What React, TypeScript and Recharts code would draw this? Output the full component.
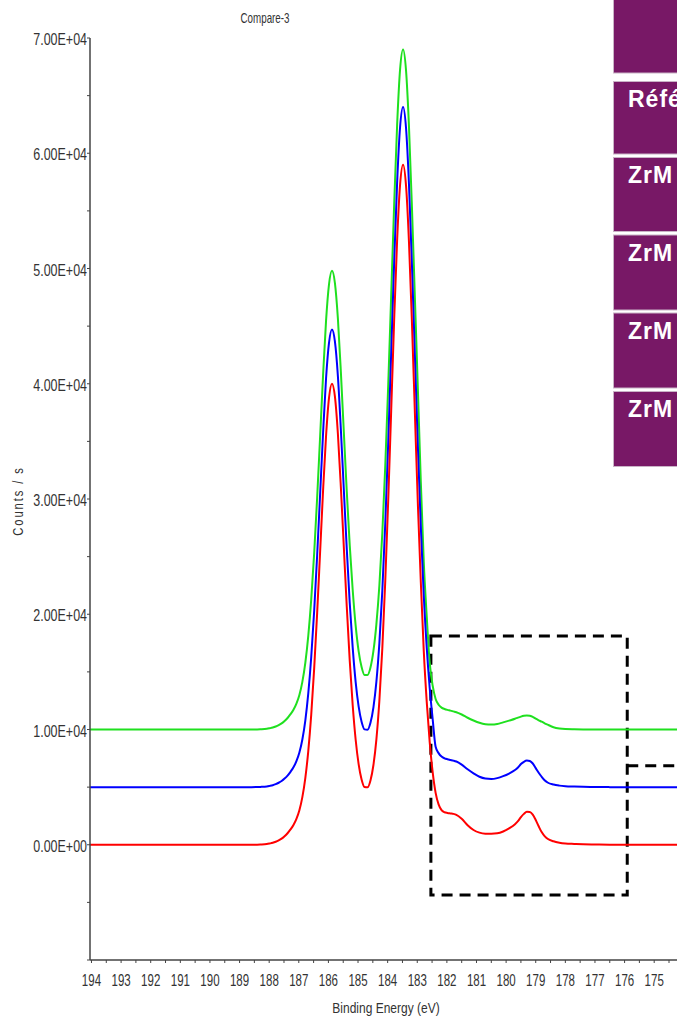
import React from 'react';
import { LineChart, Line, XAxis, YAxis, ReferenceArea, ReferenceLine } from 'recharts';

// Binding energy grid (eV), high to low
const ENERGY = [
  194.05, 193, 192, 191, 190, 189.5, 189, 188.6, 188.3,
  188.08, 187.98, 187.88, 187.78, 187.68, 187.58, 187.48, 187.38, 187.28, 187.18, 187.08, 186.98,
  186.88, 186.78, 186.68, 186.58, 186.48, 186.38, 186.28, 186.18, 186.08, 185.98,
  185.88, 185.78, 185.68, 185.58, 185.48, 185.38, 185.28, 185.18, 185.08, 184.98,
  184.88, 184.78, 184.68, 184.58, 184.48, 184.38, 184.28, 184.18, 184.08, 183.98,
  183.88, 183.78, 183.68, 183.58, 183.48, 183.38, 183.28, 183.18, 183.08, 182.98,
  182.88, 182.78, 182.68, 182.58, 182.48, 182.38, 182.28, 182.18, 182.08, 181.98, 181.88,
  181.78, 181.68, 181.5, 181.3, 181.1, 180.9, 180.7, 180.5, 180.3, 180.1,
  179.9, 179.7, 179.6, 179.5, 179.4, 179.3, 179.2, 179.1, 179.0, 178.9,
  178.8, 178.7, 178.6, 178.4, 178.2, 178.0, 177.7, 177.4, 177.0, 176.5,
  176.0, 175.5, 175.0, 174.6, 174.23,
];

const RED_COUNTS = [
  0, 0, 0, 0, 0, 0, 0, 0, 20,
  60, 110, 170, 260, 380, 530, 740, 1000, 1330, 1720, 2250, 3000,
  4130, 5780, 8130, 11290, 15330, 20120, 25420, 30750, 35460, 38780,
  40010, 38880, 35660, 31050, 25830, 20650, 15980, 12100, 9110, 7000,
  5670, 5010, 4980, 5580, 6920, 9150, 12470, 17040, 22910, 29940,
  37710, 45550, 52450, 57280, 59010, 57210, 52310, 45340, 37440, 29580,
  22800, 16800, 12400, 8900, 6300, 4500, 3500, 3000, 2820, 2760, 2720,
  2680, 2600, 2250, 1700, 1280, 1050, 960, 950, 990, 1150,
  1420, 1780, 2050, 2400, 2680, 2870, 2850, 2620, 2150, 1600,
  1100, 750, 520, 300, 180, 110, 70, 40, 20, 0,
  0, 0, 0, 0, 0,
];

const BLUE_COUNTS = [
  5000, 5000, 5000, 5000, 5000, 5000, 5000, 5000, 5020,
  5060, 5110, 5170, 5260, 5380, 5530, 5740, 6000, 6330, 6720, 7250, 8000,
  9130, 10780, 13130, 16290, 20330, 25120, 30420, 35750, 40460, 43550,
  44700, 43650, 40660, 36050, 30830, 25650, 20980, 17100, 14110, 12000,
  10670, 10010, 9980, 10580, 11920, 14150, 17470, 22040, 27910, 34940,
  42710, 50550, 57450, 62280, 64010, 62210, 57310, 50340, 42440, 34580,
  27600, 21600, 17100, 13600, 10900, 8500, 7950, 7650, 7500, 7420, 7360,
  7300, 7220, 6950, 6550, 6200, 5900, 5740, 5700, 5780, 5950,
  6180, 6480, 6700, 7000, 7200, 7300, 7260, 7050, 6650, 6250,
  5900, 5600, 5400, 5220, 5130, 5080, 5050, 5030, 5010, 5000,
  5000, 5000, 5000, 5000, 5000,
];

const GREEN_COUNTS = [
  10000, 10000, 10000, 10000, 10000, 10000, 10000, 10000, 10020,
  10060, 10110, 10170, 10260, 10380, 10530, 10740, 11000, 11330, 11720, 12250, 13000,
  14130, 15780, 18130, 21290, 25330, 30120, 35420, 40750, 45460, 48630,
  49800, 48730, 45660, 41050, 35830, 30650, 25980, 22100, 19010, 16800,
  15420, 14730, 14730, 15380, 16820, 19150, 22470, 27040, 32910, 39940,
  47710, 55550, 62450, 67280, 69010, 67210, 62310, 55340, 47440, 39580,
  31500, 24500, 19800, 15800, 13800, 12650, 12150, 11900, 11780, 11700, 11640,
  11570, 11500, 11300, 11020, 10780, 10580, 10460, 10430, 10480, 10620,
  10770, 10930, 11030, 11120, 11190, 11220, 11190, 11100, 10940, 10800,
  10680, 10540, 10420, 10200, 10090, 10040, 10020, 10010, 10000, 10000,
  10000, 10000, 10000, 10000, 10000,
];

const X_TICKS = [
  194, 193.5, 193, 192.5, 192, 191.5, 191, 190.5, 190, 189.5, 189, 188.5, 188, 187.5,
  187, 186.5, 186, 185.5, 185, 184.5, 184, 183.5, 183, 182.5, 182, 181.5, 181, 180.5,
  180, 179.5, 179, 178.5, 178, 177.5, 177, 176.5, 176, 175.5, 175, 174.5,
];

const Y_TICKS = [
  -10000, -5000, 0, 5000, 10000, 15000, 20000, 25000, 30000, 35000, 40000,
  45000, 50000, 55000, 60000, 65000, 70000,
];
const Y_MAJOR_VALUES = [0, 10000, 20000, 30000, 40000, 50000, 60000, 70000];
const Y_MAJOR_LABELS = ['0.00E+00', '1.00E+04', '2.00E+04', '3.00E+04', '4.00E+04', '5.00E+04', '6.00E+04', '7.00E+04'];

const LEGEND_LABELS = ['', 'Référence', 'ZrM', 'ZrM', 'ZrM', 'ZrM'];
const LEGEND_TOPS = [-6, 81.5, 157.5, 235, 313, 391.5];
const LEGEND_HEIGHTS = [79, 72.5, 74, 75, 75, 75];

// Highlight boxes (in data units)
const ZOOM_BOX = { x1: 182.54, x2: 175.91, y1: -4360, y2: 18110 };
const SIDE_BOX = { x1: 175.91, x2: 174.23, y: 6860 };

const FONT = '"Liberation Sans", Arial, sans-serif';
const TEXT_COLOR = '#333';
const AXIS_COLOR = '#444';

const data = ENERGY.map((e, i) => ({
  energy: e,
  red: RED_COUNTS[i],
  blue: BLUE_COUNTS[i],
  green: GREEN_COUNTS[i],
}));

const XTick = (props: any) => {
  const { x, y, payload } = props;
  const v = payload.value;
  if (!Number.isInteger(v)) return <g />;
  return (
    <text
      transform={`translate(${x},${y + 21}) scale(0.72,1)`}
      textAnchor="middle"
      fontFamily={FONT}
      fontSize={16}
      fill={TEXT_COLOR}
    >
      {String(v)}
    </text>
  );
};

const YTick = (props: any) => {
  const { x, y, payload } = props;
  const idx = Y_MAJOR_VALUES.indexOf(payload.value);
  if (idx < 0) return <g />;
  return (
    <text
      transform={`translate(${x + 2},${y + 7}) scale(0.78,1)`}
      textAnchor="end"
      fontFamily={FONT}
      fontSize={16}
      fill={TEXT_COLOR}
    >
      {Y_MAJOR_LABELS[idx]}
    </text>
  );
};

export default function App() {
  return (
    <div
      style={{
        position: 'absolute',
        left: 0,
        top: 0,
        width: 677,
        height: 1017,
        overflow: 'hidden',
        background: '#fff',
      }}
    >
      <LineChart width={677} height={1017} data={data} margin={{ top: 38, right: 0, bottom: 0, left: 0 }}>
        <XAxis
          dataKey="energy"
          type="number"
          domain={[174.23, 194.05]}
          reversed
          allowDataOverflow
          ticks={X_TICKS}
          interval={0}
          height={57}
          tickSize={3}
          axisLine={{ stroke: AXIS_COLOR, strokeWidth: 1.5 }}
          tickLine={{ stroke: AXIS_COLOR }}
          tick={<XTick />}
        />
        <YAxis
          type="number"
          domain={[-10000, 70000]}
          allowDataOverflow
          ticks={Y_TICKS}
          interval={0}
          width={90}
          tickSize={3}
          axisLine={{ stroke: AXIS_COLOR, strokeWidth: 1.5 }}
          tickLine={{ stroke: AXIS_COLOR }}
          tick={<YTick />}
        />
        <Line type="monotone" dataKey="green" stroke="#1fe01f" strokeWidth={2} dot={false} isAnimationActive={false} />
        <Line type="monotone" dataKey="blue" stroke="#0000ff" strokeWidth={2} dot={false} isAnimationActive={false} />
        <Line type="monotone" dataKey="red" stroke="#ff0000" strokeWidth={2} dot={false} isAnimationActive={false} />
        <ReferenceArea
          x1={ZOOM_BOX.x1}
          x2={ZOOM_BOX.x2}
          y1={ZOOM_BOX.y1}
          y2={ZOOM_BOX.y2}
          fill="none"
          fillOpacity={0}
          stroke="#000"
          strokeWidth={3}
          strokeDasharray="11 7"
        />
        <ReferenceLine
          segment={[{ x: SIDE_BOX.x1, y: SIDE_BOX.y }, { x: SIDE_BOX.x2, y: SIDE_BOX.y }]}
          stroke="#000"
          strokeWidth={3}
          strokeDasharray="11 7"
        />
      </LineChart>
      <svg
        width={677}
        height={1017}
        style={{ position: 'absolute', left: 0, top: 0, pointerEvents: 'none' }}
      >
        <text transform="translate(265,23) scale(0.7,1)" textAnchor="middle" fontFamily={FONT} fontSize={14} fill={TEXT_COLOR}>
          Compare-3
        </text>
        <text transform="translate(386,1013) scale(0.8,1)" textAnchor="middle" fontFamily={FONT} fontSize={15} fill={TEXT_COLOR}>
          Binding Energy (eV)
        </text>
        <text
          transform="translate(23,501) rotate(-90) scale(0.75,1)"
          textAnchor="middle"
          fontFamily={FONT}
          fontSize={15}
          letterSpacing={2.5}
          fill={TEXT_COLOR}
        >
          Counts / s
        </text>
        {LEGEND_TOPS.map((top, i) => (
          <g key={i}>
            <rect x={613.5} y={top} width={80} height={LEGEND_HEIGHTS[i]} fill="#781866" stroke="#c9b3c6" strokeWidth={1} />
            {LEGEND_LABELS[i] ? (
              <text x={628} y={top + 25.5} fontFamily={FONT} fontWeight="bold" fontSize={23} letterSpacing={1} fill="#fff">
                {LEGEND_LABELS[i]}
              </text>
            ) : null}
          </g>
        ))}
      </svg>
    </div>
  );
}
